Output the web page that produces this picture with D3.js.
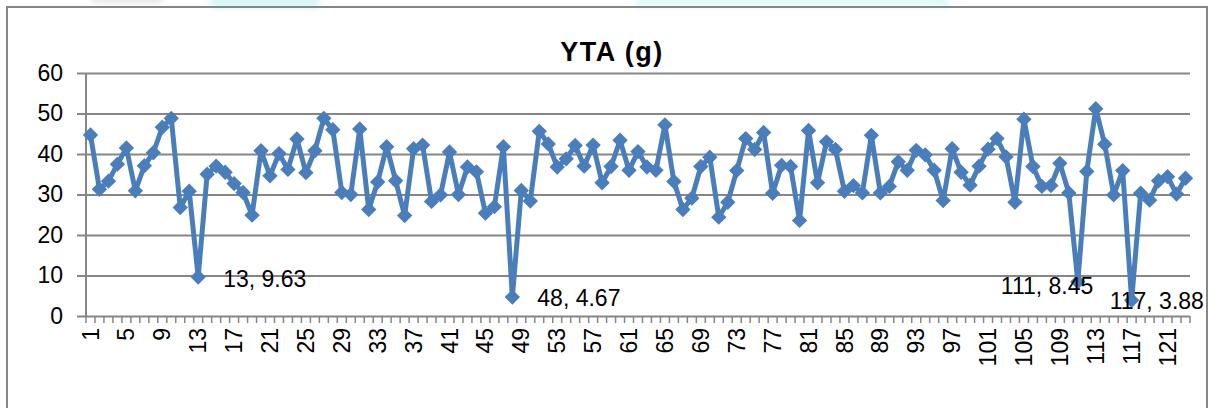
<!DOCTYPE html>
<html>
<head>
<meta charset="utf-8">
<script src="https://cdn.jsdelivr.net/npm/d3@7"></script>
<style>
  html, body { margin: 0; padding: 0; background: #ffffff; }
  svg { display: block; }
  text { font-family: "Liberation Sans", Arial, sans-serif; fill: #000; }
</style>
</head>
<body>
<svg id="chart" width="1215" height="408"></svg>
<script>
// Sample index numbers along the horizontal axis
const categories = d3.range(1, 124);

// YTA (g) per sample
const yta = [
  44.7, 31.3, 33.3, 37.5, 41.5, 30.9, 37.1, 40.3, 46.6, 48.8,
  26.8, 30.8, 9.63, 35.0, 37.0, 35.5, 32.7, 30.5, 24.9, 40.8,
  34.6, 40.1, 36.2, 43.7, 35.4, 40.8, 48.8, 46.0, 30.5, 30.0,
  46.2, 26.3, 33.1, 41.8, 33.4, 24.8, 41.3, 42.2, 28.3, 29.9,
  40.5, 30.0, 36.8, 35.6, 25.4, 27.0, 41.8, 4.67, 31.0, 28.4,
  45.6, 42.5, 36.8, 38.8, 42.1, 37.0, 42.2, 32.9, 36.9, 43.4,
  36.0, 40.6, 36.8, 36.0, 47.2, 33.2, 26.3, 29.1, 36.9, 39.2,
  24.4, 28.1, 35.9, 43.8, 41.1, 45.3, 30.3, 37.2, 36.9, 23.6,
  45.8, 32.9, 43.0, 41.1, 30.8, 32.2, 30.4, 44.6, 30.4, 32.0,
  38.1, 36.0, 40.9, 39.8, 36.0, 28.5, 41.3, 35.5, 32.3, 37.0,
  41.2, 43.8, 39.3, 28.1, 48.6, 36.9, 32.0, 32.2, 37.7, 30.4,
  8.45, 35.7, 51.2, 42.4, 29.9, 35.9, 3.88, 30.3, 28.6, 33.4,
  34.4, 30.1, 34.0
];

// Category labels shown under the axis
const xTickLabels = [1, 5, 9, 13, 17, 21, 25, 29, 33, 37, 41, 45, 49, 53, 57, 61,
  65, 69, 73, 77, 81, 85, 89, 93, 97, 101, 105, 109, 113, 117, 121];

// Value axis ticks
const yTicks = [0, 10, 20, 30, 40, 50, 60];

// Samples that carry a "n, value" label
const labelledSamples = [13, 48, 111, 117];

const title = "YTA (g)";

// ---- layout ----
const plot = { left: 86, right: 1190, top: 73, bottom: 316 };
const gridColor = "#868686";
const seriesColor = "#4A7EBB";
// offsets of each data label from its point (start of text, vertical centre)
const labelOffset = {
  13:  { dx: 25,  dy: 2 },
  48:  { dx: 25,  dy: 1 },
  111: { dx: -77, dy: 4 },
  117: { dx: -22, dy: 1 }
};

const svg = d3.select("#chart");

// faint cyan haze along the top edge
const defs = svg.append("defs");
defs.append("filter").attr("id", "haze")
  .attr("x", "-20%").attr("y", "-100%").attr("width", "140%").attr("height", "300%")
  .append("feGaussianBlur").attr("stdDeviation", 3);
const haze = svg.append("g").attr("filter", "url(#haze)");
haze.append("rect").attr("x", 210).attr("y", -6).attr("width", 110).attr("height", 14).attr("fill", "#d8f7f7");
haze.append("rect").attr("x", 635).attr("y", -6).attr("width", 315).attr("height", 14).attr("fill", "#e2fafa");
haze.append("rect").attr("x", 92).attr("y", -6).attr("width", 70).attr("height", 9).attr("fill", "#e6e6e6");

// chart frame
svg.append("rect")
  .attr("x", 7).attr("y", 7)
  .attr("width", 1200).attr("height", 440)
  .attr("fill", "none")
  .attr("stroke", gridColor)
  .attr("stroke-width", 2);

const x = d3.scaleBand()
  .domain(categories)
  .range([plot.left, plot.right])
  .paddingInner(0).paddingOuter(0);
const cx = d => x(d) + x.bandwidth() / 2;

const y = d3.scaleLinear()
  .domain([0, 60])
  .range([plot.bottom, plot.top]);

// horizontal gridlines with outside ticks and value labels
const yAxis = d3.axisLeft(y)
  .tickValues(yTicks)
  .tickSize(-(plot.right - plot.left))
  .tickPadding(23)
  .tickFormat(d3.format("d"));

const gy = svg.append("g")
  .attr("transform", `translate(${plot.left},0)`)
  .call(yAxis);
gy.select(".domain").remove();
gy.selectAll(".tick line")
  .attr("x1", -9)
  .attr("stroke", gridColor)
  .attr("stroke-width", 2);
gy.selectAll(".tick text")
  .attr("font-size", 23)
  .attr("font-family", "Liberation Sans, Arial, sans-serif")
  .attr("fill", "#000");

// vertical axis line
svg.append("line")
  .attr("x1", plot.left).attr("x2", plot.left)
  .attr("y1", y(60)).attr("y2", y(0))
  .attr("stroke", gridColor).attr("stroke-width", 2);

// category tick marks on band boundaries
const boundaries = categories.map(c => x(c)).concat([plot.right]);
svg.append("g")
  .selectAll("line")
  .data(boundaries)
  .join("line")
  .attr("x1", d => d).attr("x2", d => d)
  .attr("y1", y(0)).attr("y2", y(0) + 7)
  .attr("stroke", gridColor).attr("stroke-width", 1.5);

// category labels, rotated
svg.append("g")
  .selectAll("text")
  .data(xTickLabels)
  .join("text")
  .attr("transform", d => `translate(${cx(d)},${y(0) + 12}) rotate(-90)`)
  .attr("text-anchor", "end")
  .attr("dy", "0.35em")
  .attr("font-size", 23)
  .text(d => d);

// series line
const points = categories.map((c, i) => ({ c, v: yta[i] }));
const line = d3.line()
  .x(d => cx(d.c))
  .y(d => y(d.v));

svg.append("path")
  .datum(points)
  .attr("d", line)
  .attr("fill", "none")
  .attr("stroke", seriesColor)
  .attr("stroke-width", 5)
  .attr("stroke-linejoin", "round")
  .attr("stroke-linecap", "round");

// diamond markers
const diamond = d3.symbol().type(d3.symbolSquare).size(118);
svg.append("g")
  .selectAll("path")
  .data(points)
  .join("path")
  .attr("d", diamond)
  .attr("transform", d => `translate(${cx(d.c)},${y(d.v)}) rotate(45)`)
  .attr("fill", seriesColor);

// data labels "sample, value"
svg.append("g")
  .selectAll("text")
  .data(points.filter(p => labelledSamples.includes(p.c)))
  .join("text")
  .attr("x", d => cx(d.c) + labelOffset[d.c].dx)
  .attr("y", d => y(d.v) + labelOffset[d.c].dy)
  .attr("dominant-baseline", "central")
  .attr("font-size", 23)
  .text(d => `${d.c}, ${d.v}`);

// title
svg.append("text")
  .attr("x", 612)
  .attr("y", 61)
  .attr("text-anchor", "middle")
  .attr("font-family", "DejaVu Sans, sans-serif")
  .attr("font-weight", "bold")
  .attr("font-size", 27)
  .attr("letter-spacing", 1.5)
  .text(title);
</script>
</body>
</html>
